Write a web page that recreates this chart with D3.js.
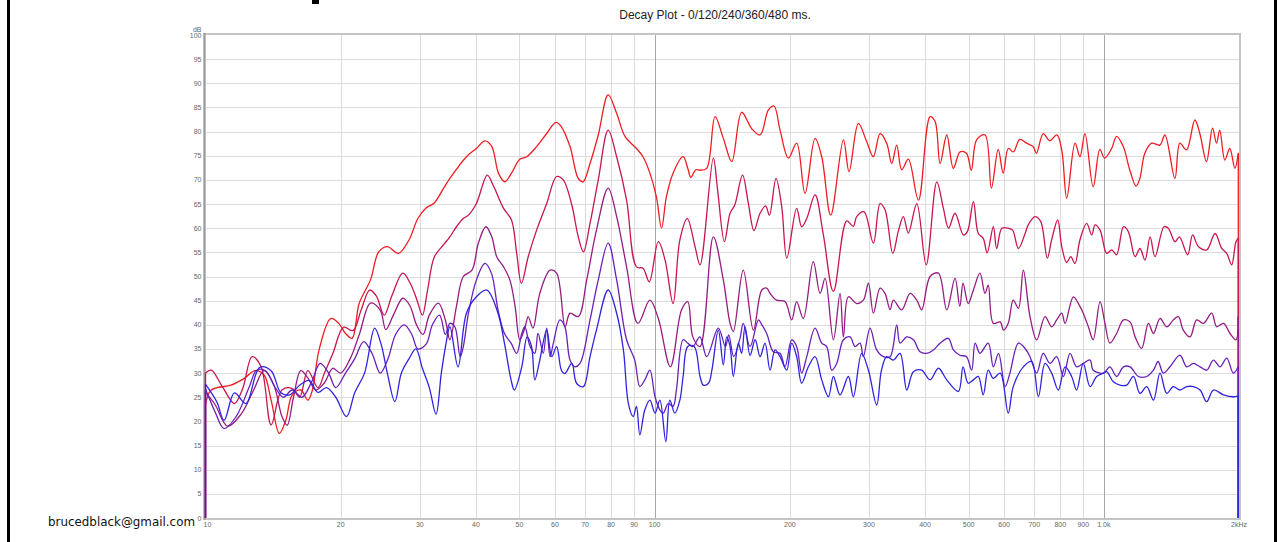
<!DOCTYPE html>
<html>
<head>
<meta charset="utf-8">
<script src="https://cdn.jsdelivr.net/npm/d3@7"></script>
<style>
  html, body { margin: 0; padding: 0; background: #fff; }
  svg { display: block; }
</style>
</head>
<body>
<svg id="chart" width="1277" height="542"></svg>
<script>
// Waterfall decay slices (frequency in Hz, level in dB)
const seriesNames = ["0 ms", "120 ms", "240 ms", "360 ms", "480 ms"];
const seriesColors = ["#f01c22", "#c8164e", "#951c82", "#6a20b8", "#3023e0"];

const decay0 = [[10.0,23.4],[10.3,26.5],[11.4,27.5],[12.2,28.9],[12.9,30.5],[13.5,29.6],[14.0,24.4],[14.6,17.5],[15.1,20.3],[15.6,25.5],[16.3,26.5],[16.9,24.4],[17.3,26.5],[17.9,34.8],[19.0,41.3],[19.8,40.3],[20.5,38.2],[21.2,37.2],[22.0,44.5],[23.3,49.3],[24.3,55.1],[25.4,56.2],[26.9,54.8],[28.4,57.6],[29.7,62.0],[30.9,64.1],[32.3,65.2],[33.9,68.3],[35.0,70.3],[38.1,74.8],[40.1,76.5],[41.9,78.1],[43.4,76.9],[44.9,71.4],[46.4,69.6],[48.0,71.4],[50.1,74.3],[51.9,74.8],[54.6,76.9],[57.5,79.6],[60.3,81.9],[62.0,81.0],[64.8,76.9],[67.6,70.3],[69.3,69.6],[71.8,73.4],[74.9,79.3],[78.8,87.6],[82.3,83.8],[85.9,79.0],[91.1,76.5],[94.2,74.8],[97.6,71.4],[100.9,66.5],[103.6,60.0],[106.2,66.5],[109.9,71.4],[115.7,74.8],[118.5,72.4],[120.4,70.5],[123.5,72.1],[126.2,72.0],[130.6,72.4],[136.3,83.1],[142.2,78.6],[148.5,73.8],[156.2,84.0],[164.5,80.6],[171.7,79.3],[179.2,84.5],[184.4,85.3],[190.2,80.3],[198.5,74.5],[207.1,77.6],[216.2,67.2],[227.6,78.6],[235.5,74.8],[246.6,62.7],[263.2,78.3],[270.9,71.7],[284.2,81.7],[296.6,77.9],[306.9,74.8],[317.6,79.6],[328.6,77.6],[337.2,73.4],[345.9,77.2],[354.9,72.1],[367.2,74.3],[386.6,65.8],[410.4,83.1],[421.1,82.1],[432.0,73.4],[447.0,79.3],[462.5,72.4],[478.6,75.8],[494.6,75.5],[507,72.0],[521,78.3],[544,79.3],[562,68.3],[582,76.3],[597,71.4],[613,76.5],[629,75.8],[650,78.4],[673,77.6],[696,76.9],[708,75.5],[733,79.6],[758,78.1],[786,79.3],[806,76.2],[827,66.2],[863,77.6],[885,74.8],[908,79.6],[947,68.6],[980,76.3],[1004,74.5],[1041,76.5],[1068,79.0],[1105,76.9],[1143,72.0],[1180,68.7],[1203,70.3],[1234,75.5],[1278,77.6],[1333,77.2],[1368,79.3],[1440,70.3],[1477,77.6],[1528,76.2],[1595,82.4],[1636,79.6],[1693,73.8],[1746,80.7],[1782,77.6],[1812,80.3],[1860,74.1],[1908,76.5],[1958,72.4],[1992,75.5]];

const decay120 = [[10.0,30.0],[10.3,30.6],[10.9,27.2],[11.6,23.7],[12.1,26.8],[12.7,33.4],[13.3,31.3],[14.0,19.3],[14.8,26.5],[15.6,26.8],[16.2,25.0],[16.9,30.5],[17.8,27.0],[18.4,30.0],[19.2,34.0],[20.3,39.5],[21.3,38.8],[22.2,43.0],[23.2,47.2],[24.0,46.0],[25.0,42.0],[26.0,46.0],[27.5,50.7],[28.6,48.5],[29.6,45.0],[30.4,42.0],[31.2,47.0],[32.3,54.0],[33.9,56.6],[35.0,58.2],[36.2,60.3],[37.5,62.0],[38.5,62.7],[40.1,65.1],[42.4,71.0],[43.7,68.9],[46.1,64.1],[48.0,61.7],[49.3,54.8],[50.5,48.6],[52.3,54.1],[54.6,59.6],[57.5,65.1],[60.5,70.7],[62.6,70.0],[65.4,64.8],[67.6,58.2],[69.4,55.1],[71.8,61.0],[74.9,70.0],[78.8,80.3],[82.3,74.8],[86.6,65.8],[91.1,52.0],[94.2,51.7],[97.3,48.9],[101.9,57.2],[105.5,53.4],[109.9,44.4],[113.8,57.6],[118.2,62.0],[123.0,56.2],[126.2,52.4],[135.1,74.5],[138.1,67.9],[143.0,57.2],[147.2,63.1],[150.8,64.8],[156.9,71.0],[161.7,65.1],[166.4,59.5],[171.7,63.1],[176.6,64.6],[180.1,62.7],[186.3,70.3],[191.8,64.5],[196.9,53.8],[207.1,64.1],[212.5,60.3],[218.1,62.0],[227.6,66.9],[237.5,58.6],[250.0,46.9],[267.7,61.5],[276.9,60.4],[281.7,62.4],[292.6,63.4],[306.9,56.9],[317.6,65.1],[325.8,63.8],[339.0,54.8],[349.0,59.5],[357.9,62.4],[367.2,59.0],[383.4,65.1],[402.3,52.4],[424.8,69.6],[439.4,64.1],[451.3,60.0],[466.4,63.1],[486.8,58.6],[497,59.3],[512.5,65.5],[525.5,58.9],[539,57.9],[550,54.9],[567.6,60.3],[577.4,55.8],[593,60.0],[612.7,60.0],[626.5,59.6],[645.5,55.8],[668,58.9],[679,60.7],[703,62.4],[723.5,61.4],[748.6,53.8],[765.5,57.6],[789.5,61.7],[806,56.2],[826.7,52.9],[844,54.1],[862.6,52.7],[885,57.6],[916,61.0],[940,58.6],[956,60.7],[981,59.6],[1015,54.8],[1041,55.5],[1068,54.5],[1106,60.3],[1134,59.3],[1174,54.1],[1204,55.8],[1235,53.4],[1268,58.2],[1300,54.1],[1362,60.3],[1392,60.0],[1441,57.2],[1473,58.2],[1537,54.5],[1577,58.6],[1624,56.2],[1695,55.5],[1769,58.9],[1831,55.8],[1878,54.8],[1926,52.4],[1969,57.2],[1992,57.9]];

const decay240 = [[10.0,26.0],[10.5,23.5],[11.2,19.0],[12.0,21.5],[12.8,26.5],[13.5,30.5],[14.2,27.5],[14.8,21.0],[15.2,19.2],[15.7,25.0],[16.3,30.5],[16.9,29.0],[17.6,26.5],[18.4,28.0],[19.2,31.0],[20.0,30.0],[21.0,33.0],[22.0,38.0],[23.3,44.5],[24.5,43.0],[25.2,39.0],[26.2,42.0],[27.5,45.5],[28.5,44.0],[29.5,40.0],[30.5,38.0],[31.5,42.0],[33.0,44.5],[34.2,41.0],[35.0,36.9],[36.2,43.8],[37.5,50.0],[39.2,51.3],[40.5,56.9],[42.1,60.3],[43.4,58.2],[44.5,54.1],[46.1,52.0],[47.6,49.3],[48.9,43.8],[50.1,36.9],[51.5,39.6],[52.3,41.7],[53.6,39.3],[55.5,46.5],[58.5,51.3],[60.5,50.7],[63.2,39.6],[64.8,42.4],[67.6,41.7],[70.6,49.3],[74.2,59.6],[78.8,68.3],[82.3,62.4],[86.6,52.0],[91.8,40.3],[97.6,45.1],[101.9,41.3],[108.4,31.3],[114.8,43.1],[118.5,44.8],[121.6,37.5],[126.2,35.5],[135.1,58.2],[142.2,49.3],[147.2,40.3],[149.7,38.6],[157.5,51.3],[165.9,38.9],[173.2,47.2],[177.6,47.6],[180.7,46.5],[186.9,45.1],[195.1,44.8],[201.9,41.0],[207.1,44.8],[214.3,41.3],[225.5,53.1],[233.5,46.5],[239.6,49.6],[250.0,36.9],[258.7,46.5],[263.2,37.5],[270.0,45.8],[281.7,44.4],[291.5,45.1],[299.2,48.6],[306.9,42.4],[317.6,47.6],[325.8,46.5],[334.3,43.1],[340.1,45.1],[354.9,43.1],[370.4,46.5],[383.4,45.1],[393.2,43.1],[410.4,50.0],[428.4,50.7],[447.0,43.1],[466.4,49.6],[478,43.8],[486,48.6],[499,44.4],[512.5,47.2],[530,50.7],[544,46.5],[553,48.2],[567.6,40.3],[588,40.6],[598,38.9],[612.7,40.3],[628.6,45.1],[645.5,43.4],[662,51.3],[685,41.7],[709,36.9],[740,41.7],[765.5,39.6],[785.5,41.0],[806,42.4],[820,40.3],[855.5,45.8],[885,43.8],[900,42.4],[924,39.6],[947,36.9],[981,44.8],[1006,40.3],[1032,36.2],[1068,38.2],[1106,41.0],[1144,40.6],[1174,37.5],[1214,35.1],[1257,40.3],[1290,38.2],[1334,41.3],[1381,39.6],[1428,41.0],[1466,41.7],[1503,38.9],[1556,37.5],[1610,41.0],[1666,40.3],[1739,42.4],[1784,39.6],[1847,40.3],[1910,38.2],[1969,36.9],[1992,41.7]];

const decay360 = [[10.0,26.7],[10.5,22.0],[11.0,18.5],[11.7,21.0],[12.5,27.0],[13.0,30.6],[13.6,30.5],[14.3,27.0],[14.9,25.0],[15.6,26.5],[16.4,25.0],[17.2,28.0],[18.0,32.0],[18.8,30.0],[19.5,27.0],[20.5,30.0],[21.5,33.0],[22.5,36.5],[23.5,34.0],[24.5,30.0],[25.5,33.0],[26.5,38.0],[27.7,40.0],[28.8,38.0],[29.7,35.0],[31.0,36.0],[32.0,40.0],[33.2,42.0],[34.2,38.0],[35.0,40.3],[35.9,39.6],[36.9,33.4],[37.5,35.5],[38.5,42.4],[40.1,49.3],[41.9,52.7],[43.3,50.7],[44.8,43.1],[46.3,38.2],[47.9,36.2],[49.3,34.1],[50.6,38.2],[51.4,39.6],[52.8,35.5],[54.1,34.1],[55.0,38.2],[56.5,34.1],[57.5,39.3],[58.5,33.4],[59.5,36.2],[61.5,41.0],[63.1,39.6],[64.8,32.7],[66.4,31.3],[68.2,32.0],[71.8,41.0],[74.9,49.3],[78.8,56.9],[82.3,49.3],[86.6,36.9],[90.3,32.7],[92.7,27.2],[95.1,28.6],[97.6,30.6],[100.2,25.1],[102.7,22.4],[104.5,21.7],[107.2,23.7],[109.9,23.1],[111.8,26.5],[115.7,36.9],[118.5,36.2],[121.6,35.5],[126.1,37.5],[130.6,33.4],[138.6,39.3],[143.7,35.5],[146.2,37.9],[150.0,33.4],[154.9,37.2],[157.5,40.3],[163.1,35.5],[170.3,41.0],[173.2,40.0],[177.6,38.2],[183.8,34.4],[190.2,34.1],[195.1,31.3],[201.9,36.9],[207.1,35.5],[212.5,30.0],[218.1,33.4],[227.6,39.3],[235.5,36.2],[241.6,35.5],[247.9,30.6],[254.3,32.0],[263.2,36.9],[272.3,37.5],[279.4,35.5],[286.6,36.2],[291.5,33.4],[301.7,39.3],[312.2,34.8],[323.1,33.4],[334.3,33.4],[345.9,40.0],[351.9,36.2],[364.2,37.5],[376.8,36.9],[389.9,34.4],[403.5,34.1],[417.5,34.8],[432.0,36.2],[450.8,37.2],[462.5,34.8],[478,33.7],[494.6,33.4],[508,30.6],[517,36.2],[530,34.1],[553,36.2],[567.6,31.3],[583,34.1],[603,27.2],[618,30.0],[645.5,36.2],[668,35.1],[685,33.4],[709,30.0],[733,34.1],[759,32.0],[785.5,33.4],[813,29.3],[841,34.1],[870,31.3],[900,32.0],[932,32.7],[947,30.6],[998,30.0],[1032,31.3],[1068,29.3],[1106,31.3],[1144,31.3],[1194,29.3],[1246,29.3],[1290,30.6],[1321,32.4],[1357,30.0],[1404,31.3],[1478,33.7],[1530,31.3],[1583,32.0],[1638,31.3],[1695,30.6],[1754,32.7],[1815,31.3],[1878,33.1],[1943,30.0],[1992,31.3]];

const decay480 = [[10.0,27.7],[10.6,24.0],[11.0,20.2],[11.6,25.9],[12.3,23.7],[13.2,31.2],[14.0,30.5],[14.7,26.0],[15.4,25.5],[16.2,27.5],[17.0,28.5],[17.8,26.0],[18.6,27.0],[19.5,25.0],[20.6,21.0],[21.5,26.0],[22.6,30.0],[23.8,39.3],[24.6,36.0],[25.4,30.0],[26.4,24.1],[27.3,30.0],[28.4,33.0],[29.4,35.0],[30.4,31.0],[31.5,27.0],[32.6,21.5],[33.5,30.0],[34.3,36.0],[35.0,39.6],[36.5,31.3],[38.1,42.4],[40.1,45.8],[42.3,47.2],[44.8,42.4],[46.3,36.2],[47.9,28.6],[48.7,26.5],[50.6,31.3],[52.0,37.5],[53.2,35.5],[54.1,28.6],[55.5,32.7],[57.5,38.9],[59.0,33.4],[60.5,35.5],[62.0,30.6],[63.1,29.9],[65.4,32.0],[67.0,27.9],[69.4,27.2],[71.8,33.4],[74.2,38.9],[78.8,47.2],[82.3,42.4],[85.2,34.8],[87.4,23.7],[89.6,21.0],[91.1,23.1],[92.7,17.2],[95.1,22.4],[97.6,24.4],[100.2,21.7],[102.7,24.4],[105.9,15.8],[108.1,24.4],[110.9,21.7],[113.8,24.4],[115.7,29.3],[118.5,35.5],[122.5,35.5],[126.2,29.3],[128.4,27.5],[131.8,27.9],[134.1,30.6],[138.6,38.9],[142.2,31.7],[144.7,37.5],[147.2,35.5],[149.7,29.3],[153.6,36.2],[156.2,34.1],[158.9,39.6],[163.1,33.7],[167.4,36.9],[171.7,33.4],[176.1,36.2],[180.7,30.6],[185.4,34.8],[190.2,33.4],[196.8,30.6],[201.9,36.2],[207.1,33.4],[212.5,27.9],[219.9,31.3],[227.6,33.4],[235.5,28.6],[243.8,25.1],[250.0,29.3],[258.7,25.5],[270.0,29.3],[277.0,25.1],[289.0,34.1],[299.2,30.6],[312.2,23.4],[319.9,30.6],[328.6,33.4],[340.1,32.7],[351.9,34.1],[364.2,26.5],[376.8,30.3],[393.2,30.6],[410.4,28.6],[428.4,31.0],[447.0,28.6],[474.5,26.2],[486,31.3],[499,27.9],[512.5,28.6],[525.5,29.3],[539,25.5],[553,30.6],[567.6,28.9],[588,30.0],[612.7,21.7],[628.6,27.2],[662,31.3],[691,32.4],[715,25.1],[740,32.0],[765.5,30.0],[792,26.5],[820,31.3],[848,29.3],[870,26.5],[900,32.0],[932,27.2],[964,29.3],[998,30.0],[1015,30.3],[1050,28.2],[1087,27.5],[1124,27.5],[1164,29.3],[1204,25.8],[1246,27.2],[1290,24.4],[1334,30.0],[1381,25.8],[1428,27.2],[1478,26.5],[1530,27.2],[1583,27.2],[1638,26.5],[1695,24.1],[1754,26.5],[1847,25.5],[1943,25.1],[1992,25.3]];

const seriesData = [decay0, decay120, decay240, decay360, decay480];

// Axis ticks
const freqTicks = [10, 20, 30, 40, 50, 60, 70, 80, 90, 100, 200, 300, 400, 500, 600, 700, 800, 900, 1000, 2000];
const freqTickLabels = ["10", "20", "30", "40", "50", "60", "70", "80", "90", "100", "200", "300", "400", "500", "600", "700", "800", "900", "1.0k", "2kHz"];
const dbTicks = [0, 5, 10, 15, 20, 25, 30, 35, 40, 45, 50, 55, 60, 65, 70, 75, 80, 85, 90, 95, 100];
const majorFreqs = [100, 1000];

const titleText = "Decay Plot - 0/120/240/360/480 ms.";
const creditText = "brucedblack@gmail.com";

const W = 1277, H = 542;
const plot = { left: 205.5, right: 1239, top: 35, bottom: 518 };

const svg = d3.select("#chart");
svg.append("rect").attr("width", W).attr("height", H).attr("fill", "#fff");

const x = d3.scaleLog().domain([10, 2000]).range([plot.left, plot.right]);
const y = d3.scaleLinear().domain([0, 100]).range([plot.bottom, plot.top]);

// Page frame bars
svg.append("rect").attr("x", 7).attr("y", 0).attr("width", 3).attr("height", H).attr("fill", "#000");
svg.append("rect").attr("x", 1274).attr("y", 0).attr("width", 3).attr("height", H).attr("fill", "#000");

// Grid
const grid = svg.append("g");
grid.selectAll("line.h").data(dbTicks.filter(d => d > 0 && d < 100)).join("line")
  .attr("x1", plot.left).attr("x2", plot.right)
  .attr("y1", d => Math.round(y(d)) + 0.5).attr("y2", d => Math.round(y(d)) + 0.5)
  .attr("stroke", "#dcdcdc").attr("stroke-width", 1);
grid.selectAll("line.v").data(freqTicks.filter(d => d > 10 && d < 2000)).join("line")
  .attr("x1", d => Math.round(x(d)) + 0.5).attr("x2", d => Math.round(x(d)) + 0.5)
  .attr("y1", plot.top).attr("y2", plot.bottom)
  .attr("stroke", d => majorFreqs.includes(d) ? "#a8a8a8" : "#dcdcdc").attr("stroke-width", 1);

// Plot border
svg.append("rect")
  .attr("x", plot.left - 1).attr("y", plot.top - 1)
  .attr("width", plot.right - plot.left + 2).attr("height", plot.bottom - plot.top + 2)
  .attr("fill", "none").attr("stroke", "#c4c4c4").attr("stroke-width", 2);
svg.append("line").attr("x1", plot.left - 1).attr("x2", plot.left - 1)
  .attr("y1", plot.top - 2).attr("y2", plot.bottom + 2)
  .attr("stroke", "#9a9a9a").attr("stroke-width", 2);

// Y tick labels
const tickFont = "'Liberation Sans', Arial, sans-serif";
svg.append("g").selectAll("text").data(dbTicks).join("text")
  .attr("x", plot.left - 4).attr("y", d => y(d) + 2.5)
  .attr("text-anchor", "end").attr("font-family", tickFont).attr("font-size", 7)
  .attr("fill", "#666").text(d => d);
svg.append("text").attr("x", plot.left - 4).attr("y", plot.top - 3)
  .attr("text-anchor", "end").attr("font-family", tickFont).attr("font-size", 7)
  .attr("fill", "#666").text("dB");

// X tick labels
svg.append("g").selectAll("text").data(freqTicks).join("text")
  .attr("x", d => x(d) + (d === 10 ? 2 : 0)).attr("y", plot.bottom + 9)
  .attr("text-anchor", "middle").attr("font-family", tickFont).attr("font-size", 7)
  .attr("fill", "#666").text((d, i) => freqTickLabels[i]);

// Decay curves, earliest slice drawn first so later slices sit on top
const line = d3.line()
  .x(d => x(d[0])).y(d => y(d[1]))
  .curve(d3.curveCatmullRom.alpha(0.5));

const curves = svg.append("g").attr("fill", "none").attr("stroke-width", 1.3)
  .attr("stroke-linejoin", "round");
seriesData.forEach((data, i) => {
  const g = curves.append("g").attr("stroke", seriesColors[i]);
  const first = data[0], last = data[data.length - 1];
  // rise from the floor at the low end, fall back to it at the top end
  g.append("line").attr("x1", x(10)).attr("x2", x(10))
    .attr("y1", y(0)).attr("y2", y(first[1]));
  g.append("path").attr("d", line(data));
  g.append("line").attr("x1", x(last[0])).attr("x2", x(2000))
    .attr("y1", y(last[1])).attr("y2", y(last[1]));
  g.append("line").attr("x1", x(2000) - 0.7).attr("x2", x(2000) - 0.7)
    .attr("y1", y(last[1])).attr("y2", y(0));
});

// Title and credit
svg.append("text").attr("x", 715).attr("y", 19)
  .attr("text-anchor", "middle").attr("font-family", "'Liberation Sans', Arial, sans-serif")
  .attr("font-size", 12).attr("fill", "#222").text(titleText);

svg.append("text").attr("x", 48).attr("y", 526)
  .attr("font-family", "'DejaVu Sans', Verdana, sans-serif").attr("font-size", 12)
  .attr("textLength", 147).attr("lengthAdjust", "spacingAndGlyphs")
  .attr("fill", "#111").text(creditText);

// Clipped heading glyph at the very top edge
svg.append("rect").attr("x", 312).attr("y", 0).attr("width", 7).attr("height", 4).attr("fill", "#000");
</script>
</body>
</html>
